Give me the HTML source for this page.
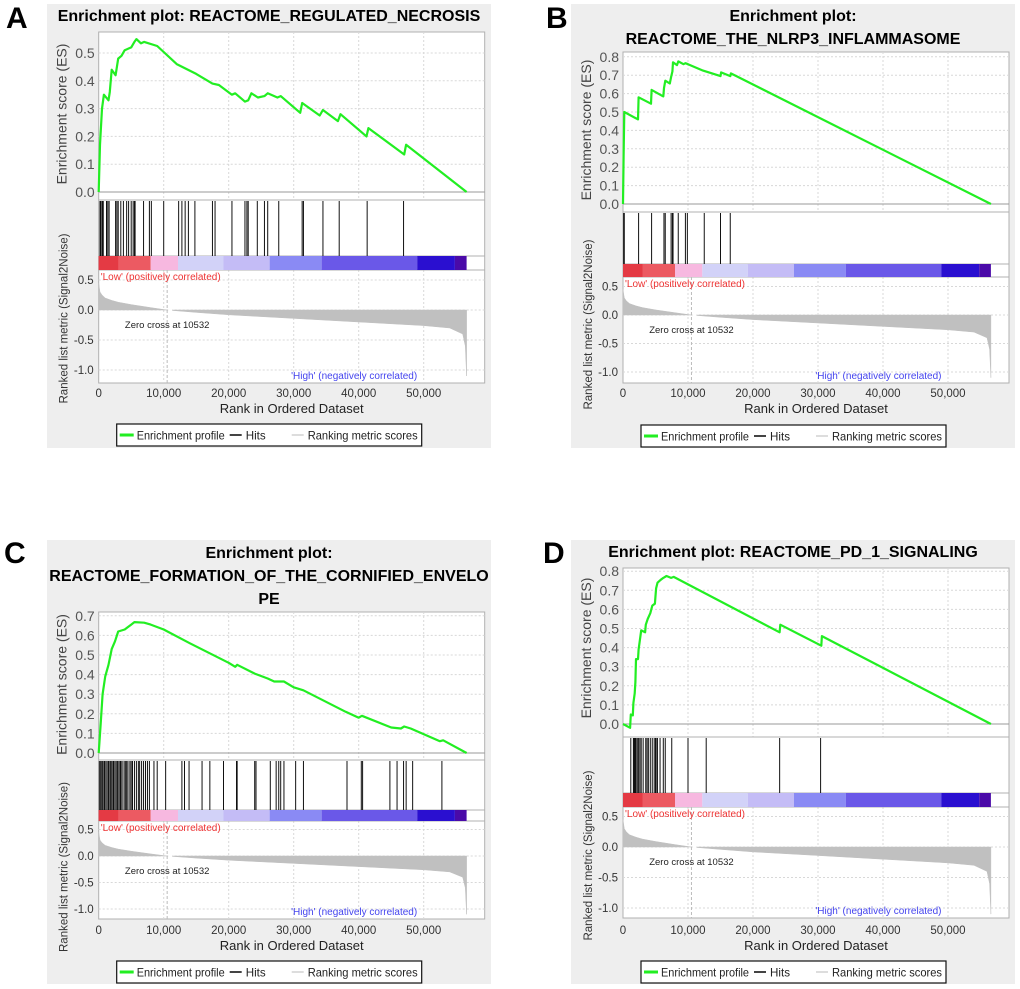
<!DOCTYPE html>
<html><head><meta charset="utf-8">
<style>
html,body{margin:0;padding:0;background:#fff;}
svg{display:block;font-family:"Liberation Sans",sans-serif;}
</style></head>
<body>
<svg id="fig" width="1020" height="989" viewBox="0 0 1020 989" xmlns="http://www.w3.org/2000/svg"></svg>
<script>
// ---- data (ranks in thousands) ----
const xTicks = [0, 10, 20, 30, 40, 50];
const xTickLabels = ["0", "10,000", "20,000", "30,000", "40,000", "50,000"];
const rankTickVals = [0.5, 0.0, -0.5, -1.0];
const rankTickLabels = ["0.5", "0.0", "-0.5", "-1.0"];
const metricRanks = [0, 0.2, 0.5, 1, 2, 3, 5, 8, 10.5, 15, 20, 30, 40, 50, 54, 56, 56.4, 56.6];
const metricValues = [0.45, 0.3, 0.25, 0.2, 0.16, 0.13, 0.09, 0.04, 0, -0.04, -0.08, -0.14, -0.2, -0.26, -0.3, -0.4, -0.6, -1.1];
const zeroCross = 10.532;
const barStops = [0, 8, 12.2, 19.2, 26.3, 34.3, 49, 54.8, 56.6];
const barColors = ["#ec5a62", "#f7b8e0", "#d2d2f8", "#c4bcf6", "#8a8af4", "#6a58e8", "#2a0fd0", "#4a0aa8"];

const esRanksA = [0,0.2,0.5,0.8,1.5,1.7,2,2.6,3,3.5,4,5,5.5,5.8,6.5,7,9,12,15,17.5,18.5,20.5,21,22.5,23,23.5,24.5,25.5,26,27.5,28,31,31.3,34,34.5,36.8,37.2,41.2,41.5,47,47.3,56.6];
const esValsA = [0,0.17,0.30,0.35,0.33,0.36,0.44,0.42,0.48,0.49,0.51,0.52,0.54,0.55,0.535,0.54,0.525,0.46,0.425,0.39,0.385,0.35,0.355,0.325,0.33,0.355,0.34,0.345,0.355,0.34,0.345,0.285,0.32,0.275,0.295,0.255,0.28,0.2,0.23,0.135,0.17,0];
const hitsA = [0.2,0.3,0.5,0.6,0.7,1.2,1.4,1.6,2.6,2.8,3.0,3.4,3.8,4.3,4.6,5.0,5.3,5.5,5.6,6.9,7.8,8.1,10.0,12.3,12.8,13.3,13.8,14.8,17.5,17.9,20.5,22.5,22.8,23.0,24.4,25.5,26.0,27.7,31.3,31.5,34.5,37.0,41.3,46.9];

const esRanksB = [0,0.1,0.2,2.3,2.4,4.3,4.4,6.2,6.3,6.5,7.2,7.4,7.6,7.7,8.3,8.5,9.3,9.6,10.0,12.3,15,15.1,16.5,16.6,56.6];
const esValsB = [0,0.26,0.5,0.46,0.58,0.545,0.62,0.585,0.63,0.67,0.655,0.69,0.72,0.77,0.755,0.775,0.76,0.765,0.76,0.725,0.695,0.715,0.695,0.71,0];
const hitsB = [0.1,0.2,2.4,4.4,6.3,6.5,7.4,7.6,7.7,8.5,9.6,9.9,12.5,15.0,16.5];

const esRanksC = [0,0.3,0.6,1,1.5,2,2.5,3,4,5,5.5,7,8,10,14,20,21,21.3,24,26,27,28.5,30,31.5,38,40,40.5,45,46.5,47,48,52.5,53,56.6];
const esValsC = [0,0.15,0.3,0.39,0.45,0.53,0.57,0.62,0.63,0.655,0.668,0.665,0.655,0.63,0.56,0.46,0.44,0.45,0.405,0.38,0.365,0.365,0.335,0.32,0.21,0.18,0.19,0.13,0.125,0.135,0.125,0.06,0.065,0];
const hitsC = [0.1,0.3,0.4,0.6,0.8,0.9,1.1,1.3,1.5,1.6,1.8,2.0,2.2,2.3,2.5,2.7,2.9,3.1,3.3,3.4,3.6,3.9,4.1,4.3,4.5,4.8,5.0,5.2,5.5,5.8,6.1,6.3,6.6,6.9,7.2,7.5,7.8,8.5,9.0,10.3,12.8,13.2,13.9,15.9,17.1,19.2,21.2,21.3,24.0,24.2,26.4,27.3,27.7,28.0,28.5,30.3,31.5,38.2,40.4,40.6,44.8,45.9,46.9,47.3,48.3,52.8];

const esRanksD = [0,1.1,1.2,1.5,1.6,1.8,1.9,2.0,2.3,2.4,2.6,2.8,3.4,3.5,3.8,4.2,4.5,4.9,5.0,5.1,5.3,5.8,6.2,6.7,7.4,7.8,24.1,24.2,30.5,30.6,56.6];
const esValsD = [0,-0.02,0.05,0.045,0.11,0.16,0.22,0.34,0.34,0.39,0.44,0.49,0.48,0.52,0.55,0.58,0.62,0.63,0.67,0.71,0.74,0.755,0.765,0.775,0.765,0.77,0.48,0.52,0.41,0.46,0];
const hitsD = [1.2,1.6,1.7,1.8,1.9,2.0,2.2,2.4,2.6,2.8,3.1,3.5,3.7,3.9,4.2,4.5,4.8,5.0,5.1,5.3,5.7,6.2,6.5,7.5,10.0,12.8,24.1,30.4];

const esTicksA = [0,0.1,0.2,0.3,0.4,0.5];
const esTicksB = [0,0.1,0.2,0.3,0.4,0.5,0.6,0.7,0.8];
const esTicksC = [0,0.1,0.2,0.3,0.4,0.5,0.6,0.7];
const esTicksD = [0,0.1,0.2,0.3,0.4,0.5,0.6,0.7,0.8];

const NS = "http://www.w3.org/2000/svg";
const svg = document.getElementById("fig");
function mk(tag, attrs, parent, text) {
  const e = document.createElementNS(NS, tag);
  for (const k in attrs) e.setAttribute(k, attrs[k]);
  if (text !== undefined) e.textContent = text;
  (parent || svg).appendChild(e);
  return e;
}

const panels = [
 {id:"a", letter:"A", lx:6, ly:28, bx:47, by:4, left:98.7, esZero:192, esPer:278, esTop:32, hitTop:200, cbTop:256, cbBot:270, rZero:310, rPer:60, rBot:383, tickY:397, legY:424,
  titles:["Enrichment plot: REACTOME_REGULATED_NECROSIS"], titleY:[21], esR:esRanksA, esV:esValsA, hits:hitsA, esTicks:esTicksA},
 {id:"b", letter:"B", lx:546, ly:28, bx:571, by:4, left:623, esZero:204, esPer:184, esTop:52, hitTop:212, cbTop:264, cbBot:277, rZero:315, rPer:57, rBot:383, tickY:397, legY:425,
  titles:["Enrichment plot:", "REACTOME_THE_NLRP3_INFLAMMASOME"], titleY:[21, 44], esR:esRanksB, esV:esValsB, hits:hitsB, esTicks:esTicksB},
 {id:"c", letter:"C", lx:4, ly:563, bx:47, by:540, left:98.7, esZero:753, esPer:196, esTop:612, hitTop:760, cbTop:810, cbBot:821, rZero:856, rPer:53, rBot:919, tickY:934, legY:961,
  titles:["Enrichment plot:", "REACTOME_FORMATION_OF_THE_CORNIFIED_ENVELO", "PE"], titleY:[558, 581, 604], esR:esRanksC, esV:esValsC, hits:hitsC, esTicks:esTicksC},
 {id:"d", letter:"D", lx:543, ly:563, bx:571, by:540, left:623, esZero:724, esPer:191, esTop:568, hitTop:737, cbTop:793, cbBot:807, rZero:847, rPer:61, rBot:918, tickY:934, legY:961,
  titles:["Enrichment plot: REACTOME_PD_1_SIGNALING"], titleY:[557], esR:esRanksD, esV:esValsD, hits:hitsD, esTicks:esTicksD}
];

const PX_PER_K = 6.5;
const PLOT_W = 386;

panels.forEach(p => {
  const g = mk("g", {});
  
  
  const X = r => p.left + r * PX_PER_K;
  const YES = v => p.esZero - v * p.esPer;
  const YR = v => p.rZero - v * p.rPer;
  const right = p.left + PLOT_W;

  const lt = mk("text", {x:p.lx, y:p.ly, "font-size":30, "font-weight":"bold", fill:"#000"}, g, p.letter);
  
  

  const bg = mk("rect", {x:p.bx, y:p.by, width:444, height:444, fill:"#eeeeee"}, g);
  
  

  p.titles.forEach((t, i) => {
    const tt = mk("text", {x:p.bx + 222, y:p.titleY[i], "font-size":16, "font-weight":"bold", "text-anchor":"middle", fill:"#000"}, g, t);
    
    
  });

  const pa = mk("rect", {x:p.left, y:p.esTop, width:PLOT_W, height:p.rBot - p.esTop, fill:"#fff", stroke:"#b0b0b0", "stroke-width":1}, g);
  
  

  xTicks.forEach(t => {
    if (t === 0) return;
    const gl = mk("line", {x1:X(t), x2:X(t), y1:p.esTop, y2:p.hitTop, stroke:"#d8d8d8", "stroke-dasharray":"2,2"}, g);
    
    
    const gl2 = mk("line", {x1:X(t), x2:X(t), y1:p.cbBot, y2:p.rBot, stroke:"#d8d8d8", "stroke-dasharray":"2,2"}, g);
    
    
  });
  p.esTicks.forEach(v => {
    const gl = mk("line", {x1:p.left, x2:right, y1:YES(v), y2:YES(v), stroke: v===0 ? "#999" : "#d8d8d8", "stroke-dasharray": v===0 ? "" : "2,2"}, g);
    
    
    const tl = mk("text", {x:p.left - 4, y:YES(v) + 5, "font-size":14, "text-anchor":"end", fill:"#555"}, g, v.toFixed(1));
    
    
  });
  [p.hitTop, p.cbTop, p.cbBot].forEach(y => {
    const s = mk("line", {x1:p.left, x2:right, y1:y, y2:y, stroke:"#b0b0b0"}, g);
    
    
  });

  let d = "";
  p.esR.forEach((r, i) => { d += (i ? "L" : "M") + X(r).toFixed(1) + "," + YES(p.esV[i]).toFixed(1); });
  const es = mk("path", {d:d, fill:"none", stroke:"#22ee22", "stroke-width":2.2, "stroke-linejoin":"round"}, g);
  
  

  p.hits.forEach(h => {
    const hl = mk("line", {x1:X(h), x2:X(h), y1:p.hitTop + 1, y2:p.cbTop, stroke:"#111", "stroke-width":1}, g);
    
    
  });

  barColors.forEach((c, i) => {
    const cb = mk("rect", {x:X(barStops[i]), y:p.cbTop, width:(barStops[i+1] - barStops[i]) * PX_PER_K, height:p.cbBot - p.cbTop, fill:c}, g);
    
    
  });
  const redGrad = mk("rect", {x:X(0), y:p.cbTop, width:3 * PX_PER_K, height:p.cbBot - p.cbTop, fill:"#e43a44"}, g);
  
  

  rankTickVals.forEach((v, i) => {
    const gl = mk("line", {x1:p.left, x2:right, y1:YR(v), y2:YR(v), stroke:"#d8d8d8", "stroke-dasharray":"2,2"}, g);
    
    
    const tl = mk("text", {x:p.left - 5, y:YR(v) + 4, "font-size":11.5, "text-anchor":"end", fill:"#333"}, g, rankTickLabels[i]);
    
    
  });
  let md = "M" + X(0) + "," + YR(0);
  metricRanks.forEach((r, i) => { md += "L" + X(r).toFixed(1) + "," + YR(metricValues[i]).toFixed(1); });
  md += "L" + X(metricRanks[metricRanks.length - 1]) + "," + YR(0) + "Z";
  const ma = mk("path", {d:md, fill:"#c0c0c0", stroke:"#c0c0c0", "stroke-width":0.5}, g);
  
  
  const gap = mk("rect", {x:X(zeroCross) + 1, y:YR(0.05), width:4, height:YR(-0.05) - YR(0.05), fill:"#fff"}, g);
  
  
  const zc = mk("line", {x1:X(zeroCross), x2:X(zeroCross), y1:p.cbBot, y2:p.rBot, stroke:"#bbb", "stroke-dasharray":"3,2"}, g);
  
  
  const zt = mk("text", {x:X(zeroCross), y:YR(0) + 18, "font-size":9.5, "text-anchor":"middle", fill:"#222"}, g, "Zero cross at 10532");
  
  
  const low = mk("text", {x:p.left + 2, y:p.cbBot + 10, "font-size":10, fill:"#ee3333"}, g, "'Low' (positively correlated)");
  
  
  const high = mk("text", {x:X(29.6), y:p.rBot - 4, "font-size":10, fill:"#4444ee"}, g, "'High' (negatively correlated)");
  
  

  xTicks.forEach((t, i) => {
    const tl = mk("text", {x:X(t), y:p.tickY, "font-size":11.5, "text-anchor":"middle", fill:"#333"}, g, xTickLabels[i]);
    
    
  });
  const xt = mk("text", {x:p.left + 193, y:p.tickY + 16, "font-size":13, "text-anchor":"middle", fill:"#222"}, g, "Rank in Ordered Dataset");
  
  

  const ycx = p.left - 32;
  const ey = (p.esTop + p.esZero) / 2 + 2;
  const yt = mk("text", {x:ycx, y:ey, "font-size":14, "text-anchor":"middle", fill:"#444", transform:"rotate(-90 " + ycx + " " + ey + ")"}, g, "Enrichment score (ES)");
  
  
  const ry = (p.hitTop + p.tickY + 20) / 2 + 10;
  const yt2 = mk("text", {x:ycx + 1, y:ry, "font-size":11.5, "text-anchor":"middle", fill:"#333", transform:"rotate(-90 " + (ycx + 1) + " " + ry + ")"}, g, "Ranked list metric (Signal2Noise)");
  
  

  const lx = p.left + 18;
  const lg = mk("g", {}, g);
  
  
  mk("rect", {x:lx, y:p.legY, width:305, height:22, fill:"#fff", stroke:"#111", "stroke-width":1.2}, lg);
  mk("line", {x1:lx + 3, x2:lx + 17, y1:p.legY + 11, y2:p.legY + 11, stroke:"#22ee22", "stroke-width":3}, lg);
  const l1 = mk("text", {x:lx + 20, y:p.legY + 15.5, "font-size":12, fill:"#222", textLength:88, lengthAdjust:"spacingAndGlyphs"}, lg, "Enrichment profile");
  
  
  mk("line", {x1:lx + 113, x2:lx + 125, y1:p.legY + 11, y2:p.legY + 11, stroke:"#444", "stroke-width":2}, lg);
  const l2 = mk("text", {x:lx + 129, y:p.legY + 15.5, "font-size":12, fill:"#222", textLength:20, lengthAdjust:"spacingAndGlyphs"}, lg, "Hits");
  
  
  mk("line", {x1:lx + 175, x2:lx + 187, y1:p.legY + 11, y2:p.legY + 11, stroke:"#ddd", "stroke-width":2}, lg);
  const l3 = mk("text", {x:lx + 191, y:p.legY + 15.5, "font-size":12, fill:"#222", textLength:110, lengthAdjust:"spacingAndGlyphs"}, lg, "Ranking metric scores");
  
  
});
</script>
</body></html>
